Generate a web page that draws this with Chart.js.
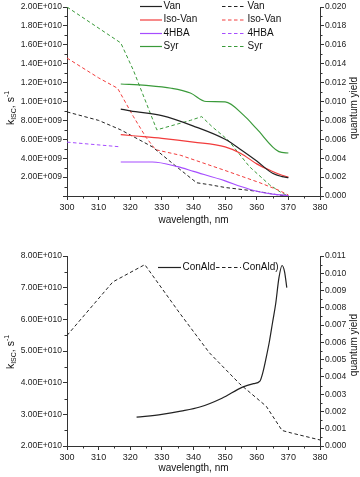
<!DOCTYPE html>
<html>
<head>
<meta charset="utf-8">
<script src="https://cdn.jsdelivr.net/npm/chart.js@4.4.1/dist/chart.umd.min.js"></script>
<style>
  body { margin: 0; background: #fff; }
  .panel { position: absolute; left: 0; }
</style>
</head>
<body>
<canvas id="topChart" class="panel" width="360" height="240" style="top:0"></canvas>
<canvas id="bottomChart" class="panel" width="360" height="237" style="top:240px"></canvas>
<script>
// ---- top panel: kISC (solid, left axis) ----
const vanKX = [317, 320, 330, 340, 350, 355, 360, 365, 368, 370];
const vanK = [9.2e9, 9.0e9, 8.5e9, 7.4e9, 6.0e9, 4.9e9, 3.7e9, 2.4e9, 2.05e9, 1.95e9];
const isoKX = [317, 320, 330, 340, 350, 355, 360, 365, 368, 370];
const isoK = [6.5e9, 6.4e9, 6.1e9, 5.7e9, 5.2e9, 4.5e9, 3.4e9, 2.6e9, 2.2e9, 2.0e9];
const hbaKX = [317, 327, 335, 340, 350, 355, 360, 365, 370];
const hbaK = [3.6e9, 3.6e9, 3.1e9, 2.6e9, 1.6e9, 1.0e9, 0.5e9, 0.2e9, 0.05e9];
const syrKX = [317, 325, 333, 339, 344, 350, 356, 360, 367, 370];
const syrK = [11.85e9, 11.7e9, 11.4e9, 10.9e9, 10.0e9, 9.95e9, 8.5e9, 7.1e9, 4.7e9, 4.55e9];

// ---- top panel: quantum yield (dashed, right axis) ----
const vanQX = [300, 310, 317, 327, 335, 341, 345, 350, 360, 367, 370];
const vanQ = [0.0089, 0.0080, 0.0070, 0.0052, 0.0030, 0.0014, 0.0012, 0.0009, 0.0005, 0.0001, 0.0];
const isoQX = [300, 310, 316, 321, 325, 328, 336, 350, 361, 367, 370];
const isoQ = [0.0146, 0.0125, 0.0114, 0.0084, 0.0062, 0.0049, 0.0043, 0.0027, 0.0014, 0.0006, 0.0001];
const hbaQX = [300, 317];
const hbaQ = [0.0057, 0.0052];
const syrQX = [300, 317, 321, 328.4, 339, 342.6, 346, 351, 357.7, 364, 368, 370];
const syrQ = [0.0200, 0.0162, 0.0133, 0.0070, 0.0080, 0.0084, 0.0073, 0.0059, 0.0031, 0.0012, 0.0003, 0.0];

// ---- bottom panel: ConAld ----
const conKX = [322, 330, 336, 342, 349, 355.5, 359, 361, 362, 363, 364, 365, 366, 367, 368, 368.8, 369.5];
const conK = [2.91e10, 3.0e10, 3.1e10, 3.23e10, 3.51e10, 3.86e10, 3.97e10, 4.05e10, 4.35e10, 4.8e10, 5.3e10, 5.9e10, 6.5e10, 7.3e10, 7.7e10, 7.5e10, 7.0e10];
const conQX = [300, 314.5, 324.6, 335.6, 345, 354.6, 363, 368, 371, 380];
const conQ = [0.0064, 0.0095, 0.0105, 0.0077, 0.0054, 0.0036, 0.0023, 0.0009, 0.00075, 0.00035];

const FONT = "'Liberation Sans', Arial, sans-serif";
const BLACK = '#222';
const RED = '#f23c3c';
const PURPLE = '#a64dff';
const GREEN = '#3a9a3a';
const DASH = [3.5, 2.5];

function pts(xs, ys) {
  return xs.map((x, i) => ({ x: x, y: ys[i] }));
}

function sciLabel(v) {
  if (v === 0) return '';
  const parts = v.toExponential(2).split('e');
  const n = parseInt(parts[1], 10);
  return parts[0] + 'E' + (n < 0 ? '-' : '+') + String(Math.abs(n)).padStart(3, '0');
}

function solid(label, color, xs, ys) {
  return { label: label, data: pts(xs, ys), borderColor: color, borderWidth: 1.2,
    pointRadius: 0, cubicInterpolationMode: 'monotone', yAxisID: 'y' };
}
function dashed(label, color, xs, ys) {
  return { label: label, data: pts(xs, ys), borderColor: color, borderWidth: 1,
    borderDash: DASH, pointRadius: 0, tension: 0, yAxisID: 'y1' };
}

// minor tick marks halfway between the major ones
const minorTicks = {
  id: 'minorTicks',
  afterDraw(chart) {
    const ctx = chart.ctx, a = chart.chartArea;
    ctx.save();
    ctx.strokeStyle = '#333';
    ctx.lineWidth = 1;
    ctx.beginPath();
    Object.values(chart.scales).forEach(scale => {
      const t = scale.ticks;
      for (let i = 0; i < t.length - 1; i++) {
        const p = Math.round(scale.getPixelForValue((t[i].value + t[i + 1].value) / 2)) + 0.5;
        if (scale.axis === 'x') { ctx.moveTo(p, a.bottom); ctx.lineTo(p, a.bottom + 2.5); }
        else if (scale.position === 'left') { ctx.moveTo(a.left, p); ctx.lineTo(a.left - 2.5, p); }
        else { ctx.moveTo(a.right, p); ctx.lineTo(a.right + 2.5, p); }
      }
    });
    ctx.stroke();
    ctx.restore();
  }
};

function drawRotated(ctx, cx, cy, parts) {
  ctx.save();
  ctx.translate(cx, cy);
  ctx.rotate(-Math.PI / 2);
  ctx.textAlign = 'left';
  ctx.textBaseline = 'alphabetic';
  let w = 0;
  parts.forEach(p => { ctx.font = p[1] + 'px ' + FONT; w += ctx.measureText(p[0]).width; });
  let x = -w / 2;
  parts.forEach(p => {
    ctx.font = p[1] + 'px ' + FONT;
    ctx.fillText(p[0], x, 3.5 + p[2]);
    x += ctx.measureText(p[0]).width;
  });
  ctx.restore();
}

// axis titles (with the ISC subscript and -1 superscript)
const axisTitles = {
  id: 'axisTitles',
  afterDraw(chart, args, o) {
    const ctx = chart.ctx, a = chart.chartArea;
    ctx.save();
    ctx.fillStyle = '#111';
    ctx.font = '10px ' + FONT;
    ctx.textAlign = 'center';
    ctx.textBaseline = 'middle';
    ctx.fillText('wavelength, nm', (a.left + a.right) / 2, o.xTitleY);
    drawRotated(ctx, o.leftX, o.leftY, [['k', 10.5, 0], ['ISC', 7, 2.5], [', s', 10.5, 0], ['-1', 7, -4.5]]);
    drawRotated(ctx, o.rightX, o.rightY, [['quantum yield', 10, 0]]);
    ctx.restore();
  }
};

// two column legend: solid sample / dashed sample
const panelLegend = {
  id: 'panelLegend',
  afterDatasetsDraw(chart, args, o) {
    const ctx = chart.ctx;
    ctx.save();
    ctx.font = '10px ' + FONT;
    ctx.textBaseline = 'middle';
    ctx.textAlign = 'left';
    o.items.forEach(it => {
      const ds = chart.data.datasets[it.index];
      ctx.strokeStyle = ds.borderColor;
      ctx.lineWidth = ds.borderWidth;
      ctx.setLineDash(ds.borderDash || []);
      ctx.beginPath();
      ctx.moveTo(it.x, it.y + 0.5);
      ctx.lineTo(it.x + it.w, it.y + 0.5);
      ctx.stroke();
      ctx.setLineDash([]);
      ctx.fillStyle = '#111';
      ctx.fillText(ds.label, it.x + it.w + 1.5, it.y);
    });
    ctx.restore();
  }
};

function xScale(height) {
  return {
    type: 'linear', min: 300, max: 380,
    ticks: { stepSize: 10, font: { family: FONT, size: 9 }, color: '#222', padding: 2, maxRotation: 0 },
    grid: { drawOnChartArea: false, tickLength: 4, tickColor: '#333' },
    border: { color: '#333', width: 1 },
    afterFit: s => { s.height = height; }
  };
}
function yScale(pos, min, max, step, fmt, width) {
  return {
    type: 'linear', position: pos, min: min, max: max,
    ticks: { stepSize: step, callback: fmt, font: { family: FONT, size: 8.5 }, color: '#222', padding: 1 },
    grid: { drawOnChartArea: false, tickLength: 4, tickColor: '#333' },
    border: { color: '#333', width: 1 },
    afterFit: s => { s.width = width; }
  };
}

const topChart = new Chart(document.getElementById('topChart'), {
  type: 'line',
  data: {
    datasets: [
      solid('Van', BLACK, vanKX, vanK),
      solid('Iso-Van', RED, isoKX, isoK),
      solid('4HBA', PURPLE, hbaKX, hbaK),
      solid('Syr', GREEN, syrKX, syrK),
      dashed('Van', BLACK, vanQX, vanQ),
      dashed('Iso-Van', RED, isoQX, isoQ),
      dashed('4HBA', PURPLE, hbaQX, hbaQ),
      dashed('Syr', GREEN, syrQX, syrQ)
    ]
  },
  options: {
    responsive: false,
    animation: false,
    layout: { padding: { top: 7, left: 0, right: 0, bottom: 0 } },
    plugins: {
      legend: { display: false },
      tooltip: { enabled: false },
      axisTitles: { xTitleY: 220, leftX: 10, leftY: 108, rightX: 353, rightY: 108 },
      panelLegend: {
        items: [
          { index: 0, x: 140, y: 6, w: 22 },
          { index: 1, x: 140, y: 19.5, w: 22 },
          { index: 2, x: 140, y: 33, w: 22 },
          { index: 3, x: 140, y: 46, w: 22 },
          { index: 4, x: 222, y: 6, w: 24 },
          { index: 5, x: 222, y: 19.5, w: 24 },
          { index: 6, x: 222, y: 33, w: 24 },
          { index: 7, x: 222, y: 46, w: 24 }
        ]
      }
    },
    scales: {
      x: xScale(44),
      y: yScale('left', 0, 2e10, 2e9, sciLabel, 67),
      y1: yScale('right', 0, 0.02, 0.002, v => v.toFixed(3), 40)
    }
  },
  plugins: [minorTicks, axisTitles, panelLegend]
});

const bottomChart = new Chart(document.getElementById('bottomChart'), {
  type: 'line',
  data: {
    datasets: [
      solid('ConAld', BLACK, conKX, conK),
      dashed('ConAld)', BLACK, conQX, conQ)
    ]
  },
  options: {
    responsive: false,
    animation: false,
    layout: { padding: { top: 16, left: 0, right: 0, bottom: 0 } },
    plugins: {
      legend: { display: false },
      tooltip: { enabled: false },
      axisTitles: { xTitleY: 228, leftX: 10, leftY: 112, rightX: 353, rightY: 105 },
      panelLegend: {
        items: [
          { index: 0, x: 158, y: 27, w: 23 },
          { index: 1, x: 216, y: 27, w: 25 }
        ]
      }
    },
    scales: {
      x: xScale(31),
      y: yScale('left', 2e10, 8e10, 1e10, sciLabel, 67),
      y1: yScale('right', 0, 0.011, 0.001, v => v.toFixed(3), 40)
    }
  },
  plugins: [minorTicks, axisTitles, panelLegend]
});
</script>
</body>
</html>
